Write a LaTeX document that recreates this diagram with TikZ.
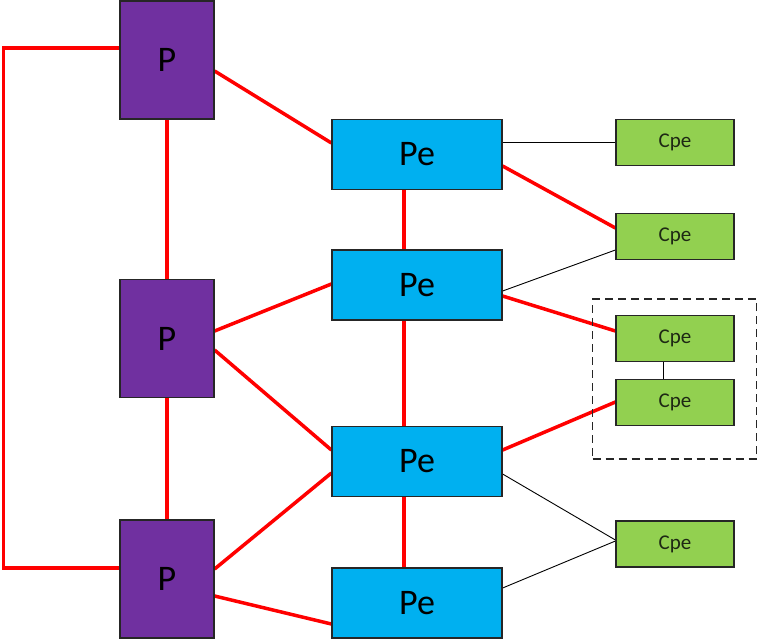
\documentclass[tikz,border=0pt]{standalone}
\usepackage{fontspec}
\setmainfont{Carlito}
\pgfdeclarelayer{background}
\pgfsetlayers{background,main}
\begin{document}
\begin{tikzpicture}[x=1pt,y=-1pt,
  pbox/.style={draw=black!85,line width=1.2pt,fill={rgb,255:red,112;green,48;blue,160},minimum width=94pt,minimum height=118pt,inner sep=0pt,font=\fontsize{36}{36}\selectfont},
  pebox/.style={draw=black!85,line width=1.2pt,fill={rgb,255:red,0;green,176;blue,240},minimum width=170pt,minimum height=70pt,inner sep=0pt,font=\fontsize{36}{36}\selectfont},
  cpebox/.style={draw=black!85,line width=1.2pt,fill={rgb,255:red,146;green,208;blue,80},minimum width=118pt,minimum height=46pt,inner sep=0pt,font=\fontsize{21}{21}\selectfont,text={rgb,255:red,30;green,40;blue,20}},
  redl/.style={draw={rgb,255:red,255;green,0;blue,0},line width=3.5pt},
  thinl/.style={draw=black,line width=0.9pt},
  grp/.style={draw=black!85,line width=1.1pt,dash pattern=on 8pt off 5pt}]
\useasboundingbox (0,0) rectangle (759,640);
% group frame
\node[grp,minimum width=164pt,minimum height=160pt,inner sep=0pt] (grp) at (674.5,379) {};
\coordinate (tl) at (3.5,48);
\coordinate (bl) at (3.5,568);
% nodes
\node[pbox] (p1) at (167,60) {P};
\node[pbox] (p2) at (167,338.5) {P};
\node[pbox] (p3) at (167,579) {P};
\node[pebox] (pe1) at (417,154.5) {Pe};
\node[pebox] (pe2) at (417,285) {Pe};
\node[pebox] (pe3) at (417,461.5) {Pe};
\node[pebox] (pe4) at (417,603) {Pe};
\node[cpebox] (c1) at (675,142.5) {Cpe};
\node[cpebox] (c2) at (675,236.5) {Cpe};
\node[cpebox] (c3) at (675,338.5) {Cpe};
\node[cpebox] (c4) at (675,402.5) {Cpe};
\node[cpebox] (c5) at (675,544) {Cpe};
\begin{pgfonlayer}{background}
% red links
\draw[redl,line join=miter] (p1.west |- tl) -- (tl) -- (bl) -- (p3.west |- bl);
\draw[redl] (p1.south) -- (p2.north);
\draw[redl] (p2.south) -- (p3.north);
\draw[redl] (p1.east |- 0,71) -- (pe1.west |- 0,143);
\draw[redl] (p2.east |- 0,331) -- (pe2.west |- 0,284);
\draw[redl] (p2.east |- 0,350) -- (pe3.west |- 0,450);
\draw[redl] (p3.east |- 0,569) -- (pe3.west |- 0,473);
\draw[redl] (p3.east |- 0,596) -- (pe4.west |- 0,624);
\draw[redl] (pe1.south -| 404,0) -- (pe2.north -| 404,0);
\draw[redl] (pe2.south -| 404,0) -- (pe3.north -| 404,0);
\draw[redl] (pe3.south -| 404,0) -- (pe4.north -| 404,0);
\draw[redl] (pe1.east |- 0,166) -- (c2.west |- 0,228);
\draw[redl] (pe2.east |- 0,296) -- (c3.west |- 0,331);
\draw[redl] (pe3.east |- 0,450) -- (c4.west |- 0,402);
% thin links
\draw[thinl] (pe1.east |- 0,142) -- (c1.west |- 0,142);
\draw[thinl] (pe2.east |- 0,291) -- (c2.west |- 0,250);
\draw[thinl] (c3.south -| 663,0) -- (c4.north -| 663,0);
\draw[thinl] (pe3.east |- 0,474) -- (c5.west |- 0,540);
\draw[thinl] (pe4.east |- 0,588) -- (c5.west |- 0,541);
\end{pgfonlayer}
\end{tikzpicture}
\end{document}
